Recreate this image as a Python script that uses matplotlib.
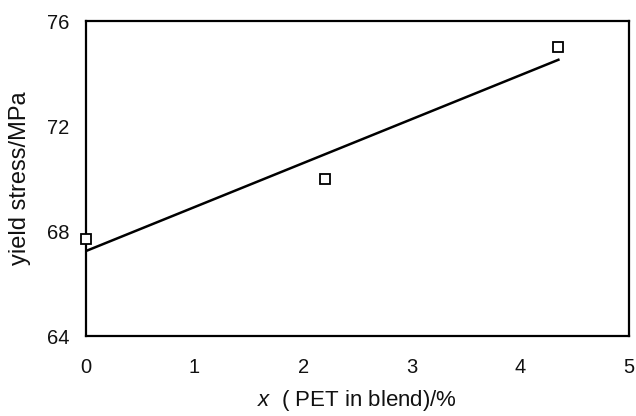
import numpy as np
import matplotlib
matplotlib.use('Agg')
import matplotlib.pyplot as plt

# measured points
pet_x = [0.0, 2.2, 4.35]
yield_stress = [67.7, 70.0, 75.0]

x_ticks = [0, 1, 2, 3, 4, 5]
y_ticks = [64, 68, 72, 76]

plt.rcParams['font.family'] = ['Liberation Sans', 'DejaVu Sans']
plt.rcParams['mathtext.fontset'] = 'custom'
plt.rcParams['mathtext.it'] = 'Liberation Sans:italic'

fig = plt.figure(figsize=(6.36, 4.16), dpi=100)
ax = fig.add_axes([0.135, 0.192, 0.854, 0.757])

# least-squares line through the points
slope, intercept = np.polyfit(pet_x, yield_stress, 1)
fit_x = np.array([pet_x[0], pet_x[-1]])
ax.plot(fit_x, intercept + slope * fit_x, color='black', linewidth=1.8)

ax.plot(pet_x, yield_stress, linestyle='none', marker='s', markersize=7,
        markerfacecolor='white', markeredgecolor='black', markeredgewidth=1.3,
        clip_on=False, zorder=3)

ax.set_xlim(0, 5)
ax.set_ylim(64, 76)
ax.set_xticks(x_ticks)
ax.set_yticks(y_ticks)
ax.tick_params(length=0, labelsize=14.5, colors='#111111')
ax.tick_params(axis='x', pad=16)
ax.tick_params(axis='y', pad=12)
for s in ax.spines.values():
    s.set_linewidth(1.6)

ax.set_xlabel(r'$x$  ( PET in blend)/%', fontsize=16, color='#111111', labelpad=8)
ax.set_ylabel('yield stress/MPa', fontsize=17, color='#111111', labelpad=11)

fig.savefig('out.png', dpi=100)
